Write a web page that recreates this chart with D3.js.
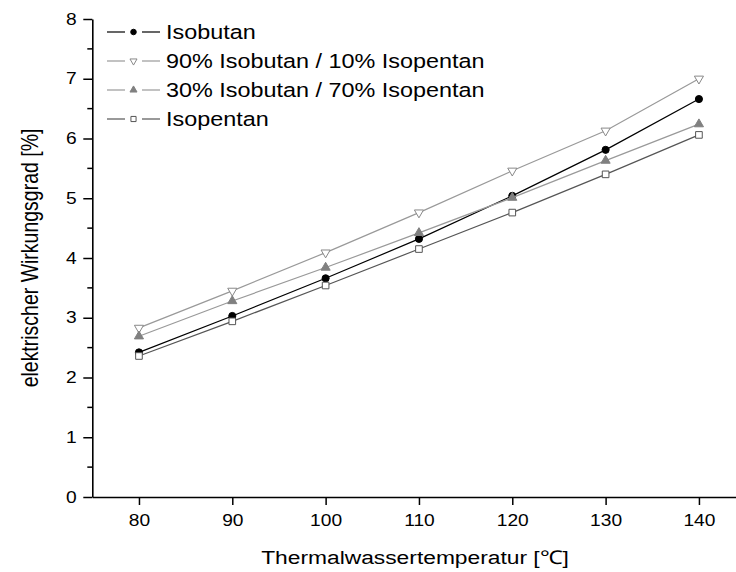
<!DOCTYPE html>
<html>
<head>
<meta charset="utf-8">
<script src="https://cdn.jsdelivr.net/npm/d3@7"></script>
<style>
body { margin: 0; background: #fff; }
text { font-family: "Liberation Sans", Arial, sans-serif; }
</style>
</head>
<body>
<script>
var w = 736;
var h = 572;

// data
var temps = [80, 90, 100, 110, 120, 130, 140];
var isobutan = [2.42, 3.03, 3.66, 4.32, 5.04, 5.81, 6.66];
var mix9010 = [2.83, 3.45, 4.09, 4.76, 5.46, 6.13, 7.00];
var mix3070 = [2.69, 3.28, 3.84, 4.42, 5.01, 5.63, 6.24];
var isopentan = [2.36, 2.94, 3.54, 4.15, 4.76, 5.40, 6.06];
var names = ["Isobutan", "90% Isobutan / 10% Isopentan", "30% Isobutan / 70% Isopentan", "Isopentan"];
var yTicks = [0, 1, 2, 3, 4, 5, 6, 7, 8];

var stretch = 1.2; // text in the picture is a bit wider than normal

var series = [
	{ name: names[0], values: isobutan, line: "#000", symbol: d3.symbolCircle, size: 40, fill: "#000", stroke: "#000", rot: 0 },
	{ name: names[1], values: mix9010, line: "#999", symbol: d3.symbolTriangle, size: 36, fill: "#fff", stroke: "#888", rot: 180 },
	{ name: names[2], values: mix3070, line: "#999", symbol: d3.symbolTriangle, size: 36, fill: "#808080", stroke: "#808080", rot: 0 },
	{ name: names[3], values: isopentan, line: "#555", symbol: d3.symbolSquare, size: 44, fill: "#fff", stroke: "#555", rot: 0 }
];

var svg = d3.select("body")
		.append("svg")
		.attr("width", w)
		.attr("height", h);

var x = d3.scaleLinear().domain([75, 145]).range([92.3, 745.6]);
var y = d3.scaleLinear().domain([0, 8]).range([497, 19]);

// axes
var xAxis = svg.append("g")
		.attr("transform", "translate(0," + y(0) + ")")
		.call(d3.axisBottom(x).tickValues(temps).tickSize(8).tickPadding(10).tickSizeOuter(0));

var yAxis = svg.append("g")
		.attr("transform", "translate(" + x(75) + ",0)")
		.call(d3.axisLeft(y).tickValues(yTicks).tickSize(9).tickPadding(4).tickSizeOuter(0));

// minor y ticks
yAxis.selectAll(".minor")
		.data(d3.range(0.5, 8, 1))
		.enter()
		.append("line")
		.attr("class", "minor")
		.attr("x1", -5)
		.attr("x2", 0)
		.attr("y1", function(d) { return y(d); })
		.attr("y2", function(d) { return y(d); })
		.attr("stroke", "#000")
		.attr("stroke-width", 1.5);

svg.selectAll(".domain").attr("stroke-width", 1.6);
svg.selectAll(".tick line").attr("stroke-width", 1.5);
svg.selectAll(".tick text")
		.attr("font-size", "16px")
		.attr("fill", "#000")
		.attr("font-family", "Liberation Sans, Arial, sans-serif");
xAxis.selectAll(".tick text").attr("transform", "scale(" + stretch + ",1)");
yAxis.selectAll(".tick text").attr("transform", "scale(" + stretch + ",1)");

// axis titles
svg.append("text")
		.attr("transform", "translate(415,564) scale(" + stretch + ",1)")
		.attr("text-anchor", "middle")
		.attr("font-size", "19px")
		.text("Thermalwassertemperatur [\u2103]");

svg.append("text")
		.attr("transform", "translate(38,258) rotate(-90) scale(1," + stretch + ")")
		.attr("text-anchor", "middle")
		.attr("font-size", "19.5px")
		.text("elektrischer Wirkungsgrad [%]");

// lines and symbols
var line = d3.line()
		.x(function(d, i) { return x(temps[i]); })
		.y(function(d) { return y(d); });

series.forEach(function(s) {
	svg.append("path")
			.attr("d", line(s.values))
			.attr("fill", "none")
			.attr("stroke", s.line)
			.attr("stroke-width", 1.2);

	svg.selectAll(null)
			.data(s.values)
			.enter()
			.append("path")
			.attr("d", d3.symbol().type(s.symbol).size(s.size))
			.attr("transform", function(d, i) {
		return "translate(" + x(temps[i]) + "," + y(d) + ") rotate(" + s.rot + ")";
	})
			.attr("fill", s.fill)
			.attr("stroke", s.stroke)
			.attr("stroke-width", 1);
});

// legend
var legend = svg.selectAll(".legend")
		.data(series)
		.enter()
		.append("g")
		.attr("class", "legend")
		.attr("transform", function(d, i) { return "translate(0," + (32 + i * 29) + ")"; });

legend.append("line")
		.attr("x1", 107).attr("x2", 125)
		.attr("stroke", function(d) { return d.line; })
		.attr("stroke-width", 1.2);
legend.append("line")
		.attr("x1", 142).attr("x2", 160)
		.attr("stroke", function(d) { return d.line; })
		.attr("stroke-width", 1.2);
legend.append("path")
		.attr("d", function(d) { return d3.symbol().type(d.symbol).size(d.size * 0.6)(); })
		.attr("transform", function(d) { return "translate(133.5,0) rotate(" + d.rot + ")"; })
		.attr("fill", function(d) { return d.fill; })
		.attr("stroke", function(d) { return d.stroke; })
		.attr("stroke-width", 1);
legend.append("text")
		.attr("transform", "translate(166,7) scale(" + stretch + ",1)")
		.attr("font-size", "19.5px")
		.text(function(d) { return d.name; });
</script>
</body>
</html>
